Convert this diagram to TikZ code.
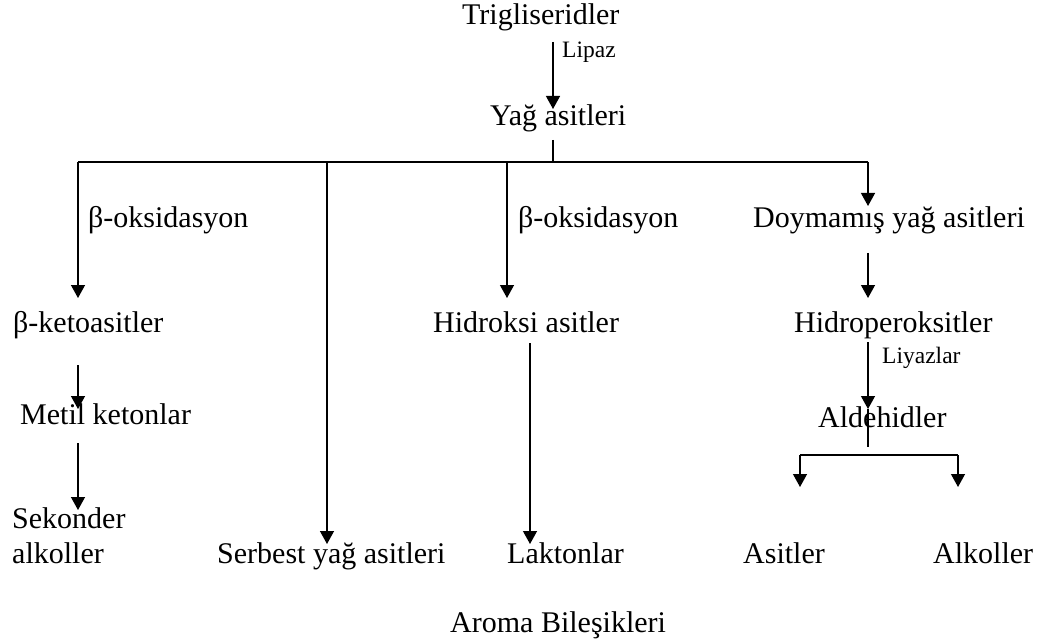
\documentclass[tikz,border=0pt]{standalone}
\usepackage{fontspec}
\setmainfont{Liberation Serif}
\usetikzlibrary{arrows.meta}
\begin{document}
\begin{tikzpicture}[x=1pt,y=-1pt,
  term/.style={inner sep=0pt,anchor=base west,font=\fontsize{30}{35}\selectfont},
  enz/.style={inner sep=0pt,anchor=base west,font=\fontsize{23.5}{28}\selectfont},
  link/.style={line width=1.3pt},
  flow/.style={line width=1.3pt,-{Triangle[width=14pt,length=13pt]}}]
\useasboundingbox (0,0) rectangle (1038,644);
\fill[white] (0,0) rectangle (1038,644);

% compounds
\node[term] (trig) at (462,25) {Trigliseridler};
\node[term] (yag) at (490,126) {Yağ asitleri};
\node[term] (keto) at (13,332) {β-ketoasitler};
\node[term] (metil) at (20,424) {Metil ketonlar};
\node[term] (sek) at (12,528) {Sekonder};
\node[term] (sek2) at (12,563) {alkoller};
\node[term] (serbest) at (217,563) {Serbest yağ asitleri};
\node[term] (hidroksi) at (433,332) {Hidroksi asitler};
\node[term] (lakton) at (507,563) {Laktonlar};
\node[term] (doy) at (753,228) {Doymamış yağ asitleri};
\node[term] (hperox) at (794,332) {Hidroperoksitler};
\node[term] (alde) at (818,427) {Aldehidler};
\node[term] (asit) at (743,563) {Asitler};
\node[term] (alkol) at (933,563) {Alkoller};
\node[term] (aroma) at (450,632) {Aroma Bileşikleri};

% reaction labels
\node[enz] (lipaz) at (562,58) {Lipaz};
\node[term] (box1) at (88,228) {β-oksidasyon};
\node[term] (box2) at (518,228) {β-oksidasyon};
\node[enz] (liyaz) at (882,363) {Liyazlar};

% junction points
\coordinate (trigout) at (553,42);
\coordinate (yagin) at (553,109);
\coordinate (yagout) at (553,140);
\coordinate (hub) at (553,162);
\coordinate (bL) at (78,162);
\coordinate (bS) at (327,162);
\coordinate (bH) at (507,162);
\coordinate (bD) at (868,162);
\coordinate (split) at (868,455);
\coordinate (splitL) at (800,455);
\coordinate (splitR) at (958,455);

% main chain
\draw[flow] (trigout) -- (yagin);
\draw[link] (yagout) -- (hub);
\draw[link] (bL) -- (bD);

% branches
\draw[flow] (bL) -- (78,298) coordinate (ketoin);
\draw[flow] (78,365) coordinate (ketoout) -- (78,409) coordinate (metilin);
\draw[flow] (78,443) coordinate (metilout) -- (78,510) coordinate (sekin);
\draw[flow] (bS) -- (327,544) coordinate (serbestin);
\draw[flow] (bH) -- (507,298) coordinate (hidroksiin);
\draw[flow] (530,343) coordinate (hidroksiout) -- (530,544) coordinate (laktonin);
\draw[flow] (bD) -- (868,206) coordinate (doyin);
\draw[flow] (868,253) coordinate (doyout) -- (868,298) coordinate (hperoxin);
\draw[flow] (868,342) coordinate (hperoxout) -- (868,409) coordinate (aldein);
\draw[link] (aldein) -- (868,447) coordinate (aldeout);
\draw[link] (splitL) -- (splitR);
\draw[flow] (splitL) -- (800,487) coordinate (asitin);
\draw[flow] (splitR) -- (958,487) coordinate (alkolin);
\end{tikzpicture}
\end{document}
